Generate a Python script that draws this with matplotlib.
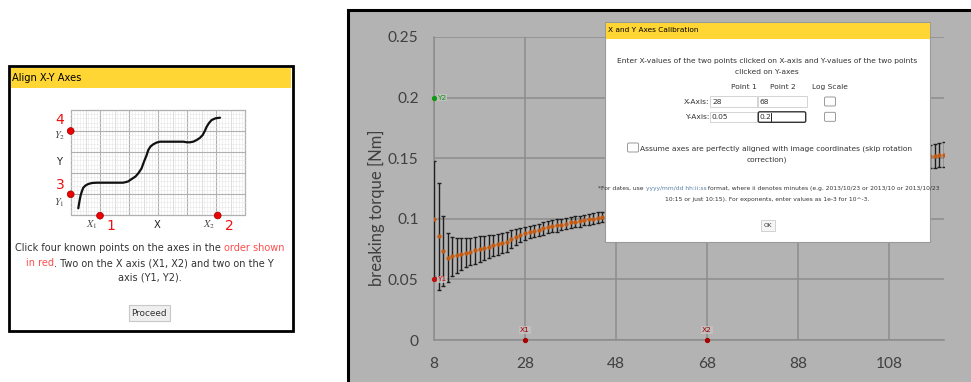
import matplotlib
matplotlib.use("Agg")
import matplotlib.pyplot as plt
from matplotlib.patches import Rectangle, FancyBboxPatch, Circle

# breaking torque per step; only the points not hidden by the dialog
step_left = list(range(8, 47))
torque_left = [0.100, 0.0855, 0.0735, 0.068, 0.069, 0.070, 0.071, 0.072, 0.073, 0.074,
               0.075, 0.076, 0.077, 0.078, 0.079, 0.080, 0.081, 0.083, 0.085, 0.0865,
               0.088, 0.089, 0.090, 0.091, 0.092, 0.093, 0.094, 0.0945, 0.095, 0.096,
               0.097, 0.0975, 0.098, 0.099, 0.0995, 0.100, 0.101, 0.1015, 0.102]
err_left = [0.048, 0.044, 0.029, 0.020, 0.016, 0.0145, 0.013, 0.012, 0.0115, 0.011,
            0.0105, 0.010, 0.0095, 0.009, 0.0088, 0.0085, 0.0083, 0.0075, 0.0068, 0.006,
            0.0052, 0.005, 0.005, 0.005, 0.005, 0.005, 0.005, 0.005, 0.0045, 0.0045,
            0.0045, 0.0045, 0.0045, 0.0045, 0.0045, 0.0045, 0.0045, 0.0045, 0.0045]
step_right = [117, 118, 119, 120]
torque_right = [0.1515, 0.152, 0.1525, 0.153]
err_right = [0.0098, 0.0099, 0.010, 0.010]

calib_names = ["X1", "X2", "Y1", "Y2"]
calib_x = [28, 68, 8, 8]
calib_y = [0, 0, 0.05, 0.2]
calib_colors = ["#a80000", "#a80000", "#c01010", "#119911"]

x_ticks = [8, 28, 48, 68, 88, 108]
y_ticks = [0, 0.05, 0.1, 0.15, 0.2, 0.25]
y_tick_labels = ["0", "0.05", "0.1", "0.15", "0.2", "0.25"]

W, H = 971, 382
YELLOW = "#ffd633"
TXT = "#333333"

fig = plt.figure(figsize=(W / 100, H / 100), dpi=100)
renderer = fig.canvas.get_renderer()


def ui_axes(z):
    ax = fig.add_axes([0, 0, 1, 1], zorder=z)
    ax.set_xlim(0, W)
    ax.set_ylim(H, 0)
    ax.axis("off")
    ax.patch.set_alpha(0)
    return ax


def rich_line(ax, cx, y, parts, size):
    texts = [ax.text(0, y, s, color=c, fontsize=size, va="center") for s, c in parts]
    widths = [t.get_window_extent(renderer=renderer).width for t in texts]
    x = cx - sum(widths) / 2
    for t, w in zip(texts, widths):
        t.set_x(x)
        x += w


back = ui_axes(0)

# ---- left panel: "Align X-Y Axes"
back.add_patch(Rectangle((9, 66), 284, 265, facecolor="white", edgecolor="black", lw=2))
back.add_patch(Rectangle((10.5, 67.5), 280, 20, facecolor=YELLOW, edgecolor="none"))
back.text(11.5, 78, "Align X-Y Axes", fontsize=7.1, va="center", color="black")

gx0, gx1, gy0, gy1 = 71, 245, 110, 215
for i in range(61):
    x = gx0 + i * (gx1 - gx0) / 60
    c, lw = ("#b0b0b0", 0.8) if i % 10 == 0 else (("#cfcfcf", 0.5) if i % 5 == 0 else ("#e6e6e6", 0.4))
    back.plot([x, x], [gy0, gy1], color=c, lw=lw)
for i in range(26):
    y = gy0 + i * (gy1 - gy0) / 25
    c, lw = ("#b0b0b0", 0.8) if i % 5 == 0 else ("#e6e6e6", 0.4)
    back.plot([gx0, gx1], [y, y], color=c, lw=lw)
back.add_patch(Rectangle((gx0, gy0), gx1 - gx0, gy1 - gy0, fill=False, edgecolor="#a0a0a0", lw=0.8))

sketch_x = [78.3, 79.5, 80.7, 82.0, 83.3, 85.5, 88.3, 92.0, 96.7, 110, 123.3, 128, 131.7,
            135.5, 138.3, 141.5, 144, 146.5, 148.3, 150.5, 153.3, 156.5, 160, 172, 183.3,
            187, 190, 193.5, 196.7, 200, 202.7, 204.8, 206.7, 209, 211.7, 215.5, 220]
sketch_y = [208.3, 201, 195, 191, 187.7, 185.5, 184, 183, 182.7, 182.7, 182.7, 181.5, 179,
            176.5, 173.3, 168.5, 161.7, 155.5, 150, 146.5, 144.3, 142.6, 141.7, 141.7, 141.7,
            142.3, 142.3, 141.6, 140, 137.8, 135, 131, 126.7, 123, 120, 118.3, 117.7]
back.plot(sketch_x, sketch_y, color="#111111", lw=1.6, solid_capstyle="round",
          solid_joinstyle="round")

for cx, cy in [(70.7, 131), (70.7, 194.3), (100, 215.7), (217.7, 215.5)]:
    back.add_patch(Circle((cx, cy), 3.4, facecolor="#ee0000", edgecolor="#990000", lw=0.5, zorder=5))
for s, x, y in [("4", 60, 120), ("3", 60, 185), ("1", 111, 225.7), ("2", 229.5, 225.7)]:
    back.text(x, y, s, color="#ee1111", fontsize=10, ha="center", va="center")
for s, x, y in [("$Y_2$", 59.5, 136), ("$Y_1$", 59.5, 202.5), ("$X_1$", 91.5, 225), ("$X_2$", 209.5, 225)]:
    back.text(x, y, s, color="#444444", fontsize=7.5, ha="center", va="center",
              math_fontfamily="stix")
back.text(59.5, 161.7, "Y", fontsize=7.2, ha="center", va="center", color="#222222")
back.text(157.5, 224.5, "X", fontsize=7.2, ha="center", va="center", color="#222222")

ls = 7.0
rich_line(back, 150, 248.3, [("Click four known points on the axes in the ", TXT),
                             ("order shown", "#ff4d4d")], ls)
rich_line(back, 150, 263.3, [("in red", "#ff4d4d"),
                             (". Two on the X axis (X1, X2) and two on the Y", TXT)], ls)
rich_line(back, 150, 277.7, [("axis (Y1, Y2).", TXT)], ls)
back.add_patch(Rectangle((128.5, 305), 41.5, 16, facecolor="#efefef", edgecolor="#c8c8c8", lw=0.8))
back.text(149.3, 313, "Proceed", fontsize=6.4, ha="center", va="center", color=TXT)

# ---- right panel background
back.add_patch(Rectangle((348, 10), 640, 400, facecolor="#b3b3b3", edgecolor="black", lw=2.2))

# ---- chart
ax = fig.add_axes([434 / W, (H - 340) / H, 509.6 / W, 303 / H], zorder=1)
ax.patch.set_alpha(0)
grid_c = "#8c8c8c"
for s in ["top", "right"]:
    ax.spines[s].set_visible(False)
for s in ["left", "bottom"]:
    ax.spines[s].set_color(grid_c)
    ax.spines[s].set_linewidth(1.1)
ax.set_xlim(8, 120)
ax.set_ylim(0, 0.25)
ax.set_xticks(x_ticks)
ax.set_yticks(y_ticks)
ax.set_yticklabels(y_tick_labels)
ax.grid(True, color=grid_c, lw=1.1)
ax.set_axisbelow(True)
ax.tick_params(length=0, labelsize=11.2, labelcolor="#404040", pad=11)
ax.tick_params(axis="x", pad=12)
for lab in ax.get_xticklabels() + ax.get_yticklabels():
    lab.set_family("Lato")
ax.set_ylabel("breaking torque [Nm]", fontsize=12, color="#404040", family="Lato")
ax.yaxis.set_label_coords(-0.097, 0.437)

for xs, ys, es in [(step_left, torque_left, err_left), (step_right, torque_right, err_right)]:
    ax.errorbar(xs, ys, yerr=es, fmt="none", ecolor="#1e1e1e", elinewidth=1.0,
                capsize=1.7, capthick=1.0, zorder=3)
    ax.plot(xs, ys, "o", color="#c55a11", markersize=3.1, markeredgewidth=0, zorder=4)

for name, x, y, c in zip(calib_names, calib_x, calib_y, calib_colors):
    ax.plot(x, y, "o", color=c, markersize=2.8, zorder=6, clip_on=False)
    if name.startswith("X"):
        ax.annotate(name, (x, y), xytext=(0, 5), textcoords="offset points", ha="center",
                    va="bottom", fontsize=5.4, color=c, zorder=6,
                    bbox=dict(boxstyle="square,pad=0.1", fc="#c4c4c4", ec="none", alpha=0.8))
    else:
        ax.annotate(name, (x, y), xytext=(2.5, 0), textcoords="offset points", ha="left",
                    va="center", fontsize=5.4, color=c, zorder=6,
                    bbox=dict(boxstyle="square,pad=0.1", fc="#c4c4c4", ec="none", alpha=0.8))

# ---- calibration dialog on top
front = ui_axes(2)
front.add_patch(Rectangle((605, 22), 325, 220, facecolor="white", edgecolor="#9a9a9a", lw=0.8))
front.add_patch(Rectangle((605.5, 22.5), 324, 16, facecolor=YELLOW, edgecolor="none"))
front.text(608, 30.5, "X and Y Axes Calibration", fontsize=5.3, va="center", color="black")

ds = 5.4
front.text(767, 61, "Enter X-values of the two points clicked on X-axis and Y-values of the two points",
           fontsize=ds, ha="center", va="center", color=TXT)
front.text(767, 72.3, "clicked on Y-axes", fontsize=ds, ha="center", va="center", color=TXT)
for s, x in [("Point 1", 743.5), ("Point 2", 782.7), ("Log Scale", 829.5)]:
    front.text(x, 86.7, s, fontsize=ds, ha="center", va="center", color=TXT)
for label, y, vals in [("X-Axis:", 101.5, ["28", "68"]), ("Y-Axis:", 116.8, ["0.05", "0.2"])]:
    front.text(709, y, label, fontsize=ds, ha="right", va="center", color=TXT)
    for k, (bx, bw) in enumerate([(710, 47), (757.5, 49)]):
        focused = label.startswith("Y") and k == 1
        if focused:
            front.add_patch(FancyBboxPatch((bx + 0.8, y - 5), bw - 1.6, 10.5,
                                           boxstyle="round,pad=0,rounding_size=1.5",
                                           facecolor="white", edgecolor="#333333", lw=1.0))
        else:
            front.add_patch(Rectangle((bx, y - 5.3), bw, 10.8, facecolor="white",
                                      edgecolor="#cccccc", lw=0.6))
        front.text(bx + 2, y, vals[k], fontsize=ds, va="center", color=TXT)
    front.add_patch(FancyBboxPatch((824.5, y - 4.5), 11, 9, boxstyle="round,pad=0,rounding_size=1.2",
                                   facecolor="white", edgecolor="#8a8a8a", lw=0.6))
# text cursor after "0.2"
front.plot([771, 771], [112.5, 121], color="black", lw=0.6)

front.add_patch(FancyBboxPatch((627.5, 143), 11, 9, boxstyle="round,pad=0,rounding_size=1.2",
                               facecolor="white", edgecolor="#8a8a8a", lw=0.6))
front.text(639.5, 149, "Assume axes are perfectly aligned with image coordinates (skip rotation",
           fontsize=ds, va="center", color=TXT)
front.text(767, 160, "correction)", fontsize=ds, ha="center", va="center", color=TXT)

fs = 4.3
rich_line(front, 769, 188.3, [("*For dates, use ", TXT), ("yyyy/mm/dd hh:ii:ss", "#5a7fa8"),
                              (" format, where ii denotes minutes (e.g. 2013/10/23 or 2013/10 or 2013/10/23", TXT)],
          fs)
rich_line(front, 767, 200, [("10:15 or just 10:15). For exponents, enter values as 1e-3 for 10^-3.", TXT)], fs)
front.add_patch(Rectangle((761, 220), 13.5, 11, facecolor="#f5f5f5", edgecolor="#cccccc", lw=0.6))
front.text(767.7, 225.7, "OK", fontsize=4.2, ha="center", va="center", color=TXT)

fig.savefig("out.png", dpi=100, facecolor="white")
